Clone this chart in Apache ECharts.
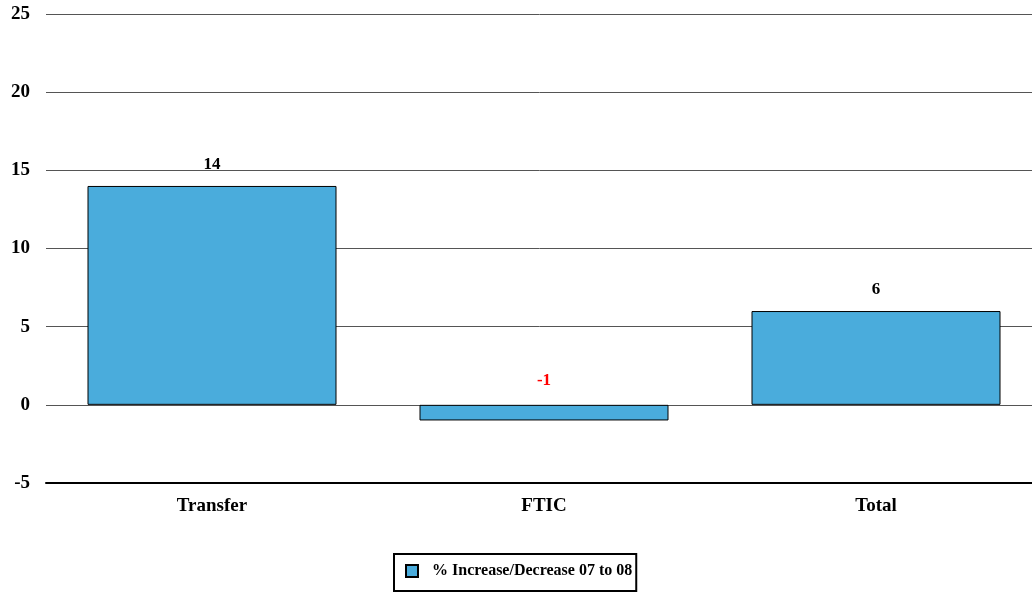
<!DOCTYPE html>
<html><head><meta charset="utf-8">
<script src="https://cdn.jsdelivr.net/npm/echarts@6/dist/echarts.min.js"></script>
<style>html,body{margin:0;padding:0;background:#fff}#c{width:1032px;height:592px}</style>
</head><body><div id="c"></div>
<script>
const categories = ['Transfer', 'FTIC', 'Total'];
const values = [14, -1, 6];
const seriesName = '% Increase/Decrease 07 to 08';
const FONT = '"Liberation Serif", "DejaVu Serif", serif';
const chart = echarts.init(document.getElementById('c'));
chart.setOption({
  animation: false,
  grid: { left: 46, width: 996, top: 14, bottom: 109, outerBoundsMode: 'none', containLabel: false },
  xAxis: {
    type: 'category', data: categories,
    axisLine: { onZero: false, lineStyle: { color: '#000', width: 2 } },
    axisTick: { show: false },
    axisLabel: { color: '#000', fontFamily: FONT, fontWeight: 'bold', fontSize: 19, margin: 14 }
  },
  yAxis: {
    type: 'value', min: -5, max: 25, interval: 5,
    axisLine: { show: false }, axisTick: { show: false },
    splitLine: { lineStyle: { color: '#555', width: 1 } },
    axisLabel: { color: '#000', fontFamily: FONT, fontWeight: 'bold', fontSize: 19, margin: 16 }
  },
  legend: {
    bottom: 1, left: 394,
    data: [seriesName],
    icon: 'rect', itemWidth: 12, itemHeight: 12, itemGap: 10,
    borderColor: '#000', borderWidth: 2, borderRadius: 0,
    padding: [9, 4, 12, 11],
    textStyle: { color: '#000', fontFamily: FONT, fontWeight: 'bold', fontSize: 16, padding: [0, 0, 0, 9] }
  },
  series: [{
    name: seriesName, type: 'bar', barCategoryGap: '25%',
    itemStyle: { color: '#4AACDC', borderColor: '#000', borderWidth: 1 },
    data: values.map(v => v < 0 ? {
      value: v,
      label: { position: 'insideBottom', offset: [0, -31], color: '#FF0000', distance: 0 }
    } : { value: v }),
    label: { show: true, position: 'top', distance: 13, color: '#000', fontFamily: FONT, fontWeight: 'bold', fontSize: 17 }
  }]
});
</script></body></html>
